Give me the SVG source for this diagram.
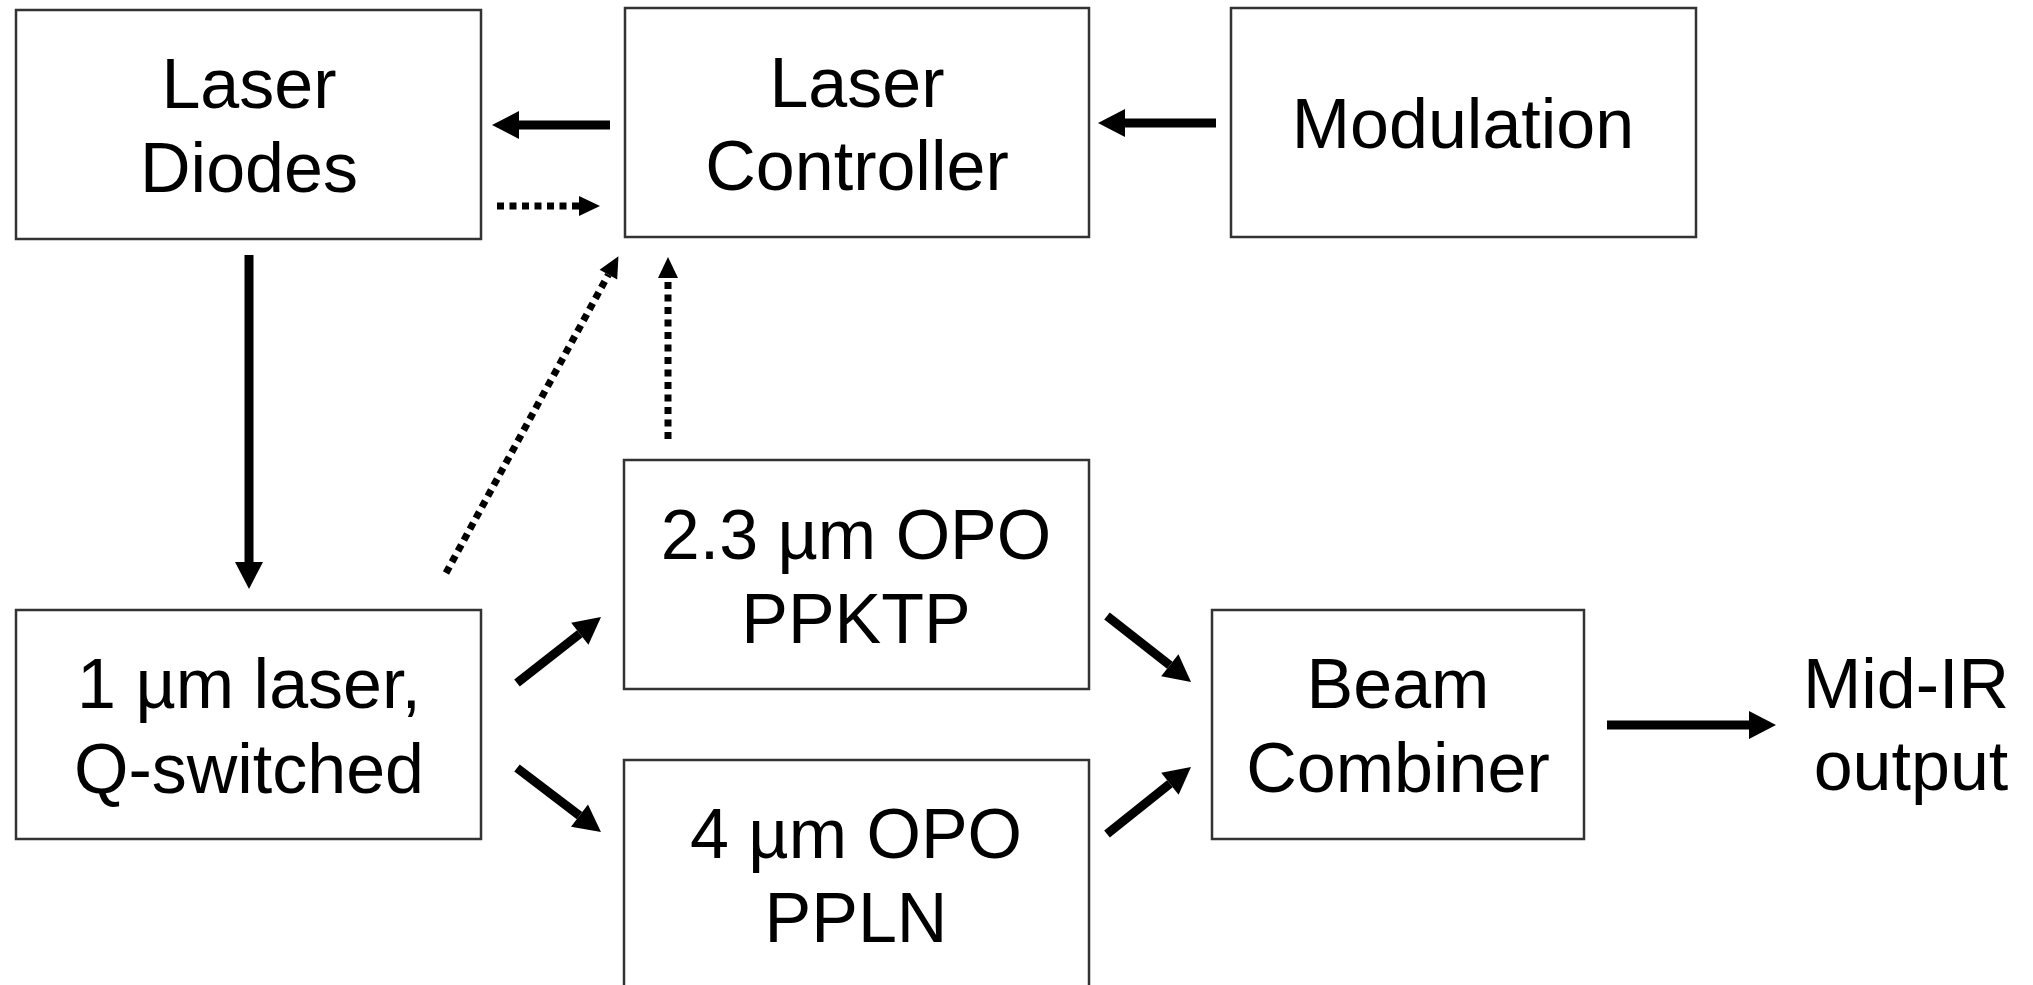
<svg xmlns="http://www.w3.org/2000/svg" width="2033" height="985" viewBox="0 0 2033 985">
<style>
.box{fill:#fff;stroke:#333;stroke-width:2.5}
.t{font-family:"Liberation Sans",Arial,Helvetica,sans-serif;font-size:70px;fill:#000;text-anchor:middle}
.s{stroke:#000;stroke-width:9;fill:none}
.d{stroke:#000;stroke-width:7;fill:none;stroke-dasharray:7 5.5}
</style>
<defs>
<marker id="ah" markerUnits="userSpaceOnUse" markerWidth="28" markerHeight="28" refX="0" refY="14" orient="auto" overflow="visible">
<path d="M0,0 L27,14 L0,28 z" fill="#000"/>
</marker>
<marker id="dh" markerUnits="userSpaceOnUse" markerWidth="20" markerHeight="20" refX="0" refY="10" orient="auto" overflow="visible">
<path d="M0,0 L21,10 L0,20 z" fill="#000"/>
</marker>
</defs>
<rect width="2033" height="985" fill="#fff"/>
<g id="laser-diodes">
<rect class="box" x="16" y="10" width="465" height="229"/>
<text class="t" x="249" y="108">Laser</text>
<text class="t" x="249" y="192">Diodes</text>
</g>
<g id="laser-controller">
<rect class="box" x="625" y="8" width="464" height="229"/>
<text class="t" x="857" y="107">Laser</text>
<text class="t" x="857" y="190">Controller</text>
</g>
<g id="modulation">
<rect class="box" x="1231" y="8" width="465" height="229"/>
<text class="t" x="1463" y="148">Modulation</text>
</g>
<g id="laser-1um">
<rect class="box" x="16" y="610" width="465" height="229"/>
<text class="t" x="249" y="708">1 µm laser,</text>
<text class="t" x="249" y="793">Q-switched</text>
</g>
<g id="opo-23">
<rect class="box" x="624" y="460" width="465" height="229"/>
<text class="t" x="856" y="559">2.3 µm OPO</text>
<text class="t" x="856" y="643">PPKTP</text>
</g>
<g id="opo-4">
<rect class="box" x="624" y="760" width="465" height="240"/>
<text class="t" x="856" y="858">4 µm OPO</text>
<text class="t" x="856" y="942">PPLN</text>
</g>
<g id="beam-combiner">
<rect class="box" x="1212" y="610" width="372" height="229"/>
<text class="t" x="1398" y="708">Beam</text>
<text class="t" x="1398" y="792">Combiner</text>
</g>
<g id="mid-ir-output">
<text class="t" x="1906" y="708">Mid-IR</text>
<text class="t" x="1911" y="790">output</text>
</g>
<g id="connectors">
<line class="s" x1="610" y1="125" x2="519" y2="125" marker-end="url(#ah)"/>
<line class="d" x1="497" y1="206" x2="579" y2="206" marker-end="url(#dh)"/>
<line class="s" x1="1216" y1="123" x2="1125" y2="123" marker-end="url(#ah)"/>
<line class="s" x1="249" y1="255" x2="249" y2="562" marker-end="url(#ah)"/>
<line class="d" x1="446" y1="573" x2="608.4" y2="274.6" marker-end="url(#dh)"/>
<line class="d" x1="668" y1="439" x2="668" y2="278" marker-end="url(#dh)"/>
<line class="s" x1="517" y1="683" x2="579.8" y2="633.7" marker-end="url(#ah)"/>
<line class="s" x1="517" y1="768" x2="579.5" y2="815.6" marker-end="url(#ah)"/>
<line class="s" x1="1107" y1="616" x2="1169.8" y2="665.3" marker-end="url(#ah)"/>
<line class="s" x1="1107" y1="834" x2="1169.9" y2="783.8" marker-end="url(#ah)"/>
<line class="s" x1="1607" y1="725" x2="1749" y2="725" marker-end="url(#ah)"/>
</g>
</svg>
